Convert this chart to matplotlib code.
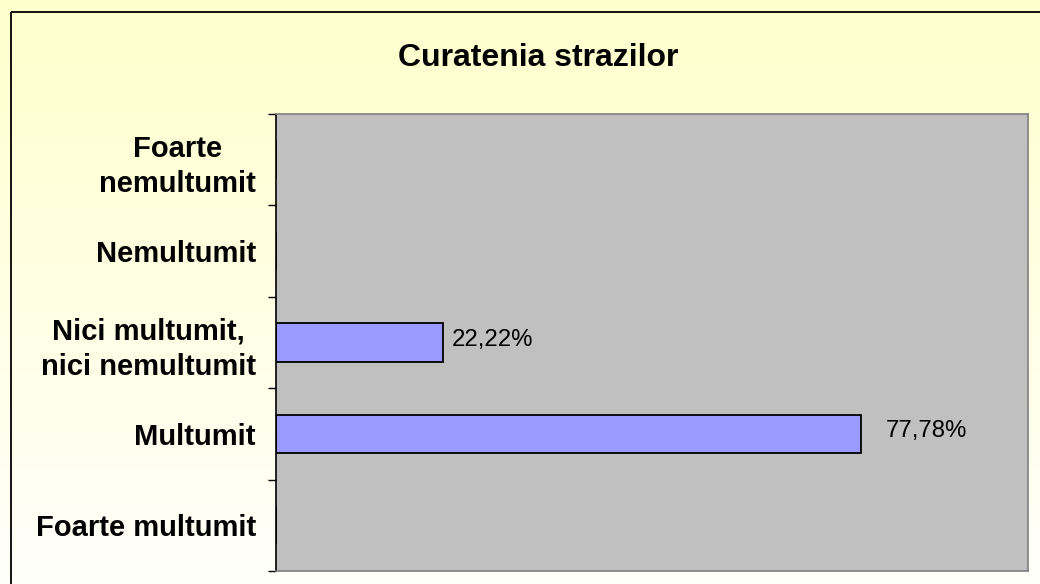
import matplotlib
matplotlib.use("Agg")
import matplotlib.pyplot as plt
import numpy as np
from matplotlib.patches import Rectangle

categories = ["Foarte multumit", "Multumit", "Nici multumit,\nnici nemultumit",
              "Nemultumit", "Foarte\nnemultumit"]
values = [0, 77.78, 22.22, 0, 0]
labels = ["", "77,78%", "22,22%", "", ""]
label_pad = [0, 25, 9, 0, 0]
title = "Curatenia strazilor"

W, H = 1040, 584
fig = plt.figure(figsize=(W/100, H/100), dpi=100)
fig.patch.set_facecolor("white")

# background gradient
bg = fig.add_axes([0, 0, 1, 1], zorder=0)
grad = np.linspace(0, 1, 256).reshape(-1, 1)
top = np.array([1.0, 1.0, 0.80])
bot = np.array([1.0, 1.0, 0.985])
img = top[None, None, :] * (1 - grad[:, :, None]) + bot[None, None, :] * grad[:, :, None]
bg.imshow(img, aspect="auto", extent=[0, W, H, 0])
bg.set_xlim(0, W)
bg.set_ylim(H, 0)
bg.axis("off")
bg.add_patch(Rectangle((10.5, 11.5), W + 20, H + 20, fill=False, edgecolor="black", lw=1.3))

x0, x1, y0, y1 = 276, 1028, 114, 571
ax = fig.add_axes([x0/W, 1 - y1/H, (x1 - x0)/W, (y1 - y0)/H], zorder=1)
ax.set_facecolor("#C0C0C0")
pos = np.arange(len(categories))
ax.barh(pos, values, height=0.42, color="#9999FF", edgecolor="black", linewidth=1.3)
ax.set_xlim(0, 100)
ax.set_ylim(-0.5, len(categories) - 0.5)
for p, v, l, pad in zip(pos, values, labels, label_pad):
    if l:
        ax.annotate(l, (v, p), xytext=(pad * 0.72, 2), textcoords="offset points",
                    ha="left", va="center", fontsize=17.3, family="Liberation Sans")
ax.set_xticks([])
ax.set_yticks(np.arange(len(categories) + 1) - 0.5, minor=True)
ax.set_yticks(pos)
ax.set_yticklabels(categories, fontsize=21, fontweight="bold", family="Liberation Sans",
                   ha="right", multialignment="center", linespacing=1.35)
ax.tick_params(axis="y", which="major", length=0, pad=14.4)
ax.tick_params(axis="y", which="minor", length=6, width=1, color="black", direction="out")
for s in ["top", "right", "bottom"]:
    ax.spines[s].set_color("#808080")
    ax.spines[s].set_linewidth(1.2)
ax.spines["left"].set_color("black")
ax.spines["left"].set_linewidth(1.2)

fig.text(538/W, 1 - 58/H, title, ha="center", va="center", fontsize=23,
         fontweight="bold", family="Liberation Sans")

fig.savefig("out.png", dpi=100)
